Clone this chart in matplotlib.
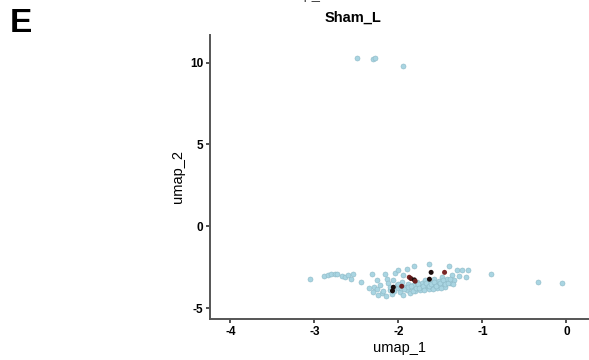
import matplotlib
matplotlib.use("Agg")
import matplotlib.pyplot as plt

plt.rcParams['font.family'] = ['Liberation Sans', 'DejaVu Sans']

# light blue cells (other clusters)
bg_x = [-2.49, -2.30, -2.28, -1.95,
        -3.05, -2.88, -2.84, -2.80, -2.76, -2.73, -2.67, -2.63, -2.60, -2.56, -2.54, -2.44, -2.32,
        -2.29, -2.26, -2.22, -2.20, -2.18, -2.16, -2.14, -2.12, -2.10, -2.08, -2.06, -2.04, -2.02,
        -2.00, -1.98, -1.96, -1.94, -1.92, -1.90, -1.88, -1.86, -1.84, -1.82, -1.80, -1.78, -1.76,
        -1.74, -1.72, -1.70, -1.68, -1.66, -1.64, -1.62, -1.60, -1.58, -1.56, -1.54, -1.52, -1.50,
        -1.48, -1.46, -1.44, -1.42, -1.40, -1.38, -1.36, -1.34, -1.30, -1.28, -1.24, -1.20, -1.17,
        -1.64, -1.81, -1.90, -2.00,
        -2.10, -2.05, -2.00, -1.97, -1.93, -1.89, -1.85, -1.83, -1.79, -1.77, -1.75, -1.71, -1.69,
        -1.67, -1.63, -1.61, -1.59, -1.57, -1.55, -1.51, -1.49, -1.47, -1.45, -1.41, -1.39, -1.35,
        -2.24, -2.15, -1.95, -2.25, -2.30, -2.35,
        -0.90, -0.34, -0.05]
bg_y = [10.30, 10.20, 10.30, 9.80,
        -3.25, -3.05, -3.00, -2.95, -2.90, -2.95, -3.05, -3.10, -2.98, -3.20, -2.92, -3.38, -2.94,
        -3.70, -3.85, -3.60, -4.10, -3.95, -2.90, -3.20, -3.45, -3.90, -4.15, -3.30, -2.85, -3.60,
        -3.80, -4.05, -3.40, -3.00, -3.70, -3.90, -3.55, -4.10, -3.80, -3.60, -3.95, -3.40, -3.70,
        -3.90, -3.50, -3.75, -3.30, -3.60, -3.85, -3.45, -3.70, -3.20, -3.55, -3.75, -3.35, -3.60,
        -3.10, -3.40, -3.70, -3.25, -2.45, -3.50, -3.00, -3.30, -2.65, -3.05, -2.70, -3.10, -2.70,
        -2.32, -2.45, -2.60, -2.70,
        -3.70, -3.95, -3.55, -3.75, -3.85, -3.70, -3.65, -3.95, -3.75, -3.55, -3.80, -3.65, -3.90,
        -3.45, -3.65, -3.55, -3.85, -3.40, -3.65, -3.50, -3.80, -3.30, -3.55, -3.45, -3.20, -3.55,
        -4.20, -4.25, -4.20, -3.30, -4.00, -3.75,
        -2.95, -3.38, -3.50]

# highlighted cells
hl_x = [-2.06, -2.07, -1.96, -1.87, -1.85, -1.81, -1.80, -1.61, -1.63, -1.45]
hl_y = [-3.73, -3.95, -3.67, -3.12, -3.20, -3.28, -3.36, -2.82, -3.24, -2.82]
hl_c = ['#1a0d0d', '#1a0d0d', '#6e1f1f', '#7a2626', '#5a1818', '#1a0d0d',
        '#6e1f1f', '#1a0d0d', '#1a0d0d', '#7a2626']

x_ticks = [-4, -3, -2, -1, 0]
y_ticks = [-5, 0, 5, 10]

fig = plt.figure(figsize=(5.89, 3.6), dpi=100)
ax = fig.add_axes([0.357, 0.114, 0.643, 0.789])

ax.scatter(bg_x, bg_y, s=13, c='#a9d5e2', edgecolors='#8db9c6', linewidths=0.4, zorder=2)
ax.scatter(hl_x, hl_y, s=13, c=hl_c, edgecolors='none', zorder=3)

ax.set_xlim(-4.24, 0.27)
ax.set_ylim(-5.67, 11.7)
ax.set_xticks(x_ticks)
ax.set_yticks(y_ticks)
ax.set_xticklabels([str(v) for v in x_ticks], fontweight='bold')
ax.set_yticklabels([str(v) for v in y_ticks], fontweight='bold')
ax.tick_params(labelsize=8.5, length=3, width=1.2, color='#333333', pad=2)

for side in ['top', 'right']:
    ax.spines[side].set_visible(False)
for side in ['left', 'bottom']:
    ax.spines[side].set_linewidth(1.4)
    ax.spines[side].set_color('#555555')

ax.set_xlabel('umap_1', fontsize=10.5, labelpad=2)
ax.set_ylabel('umap_2', fontsize=10.5, labelpad=4)

fig.text(353 / 589, 1 - 18 / 360, 'Sham_L', fontsize=10.5, fontweight='bold',
         ha='center', va='center')
fig.text(302 / 589, 1 - 2 / 360, 'umap_1', fontsize=10.5, color='#444444',
         ha='center', va='bottom')
fig.text(10 / 589, 1 - 23 / 360, 'E', fontsize=24, fontweight='bold',
         ha='left', va='center')

fig.savefig('out.png', dpi=100)
